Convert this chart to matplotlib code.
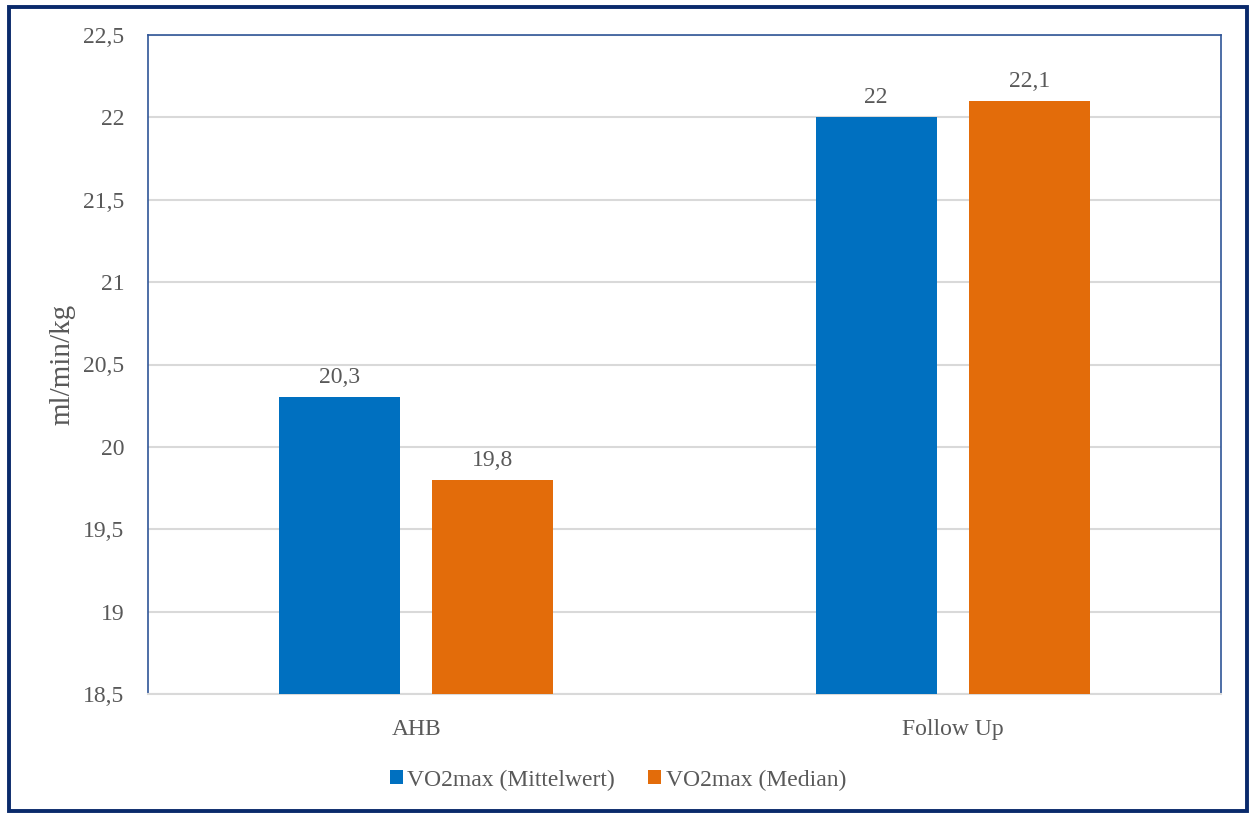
import numpy as np
import matplotlib.pyplot as plt
from matplotlib.patches import Rectangle

categories = ["AHB", "Follow Up"]
mittelwert = [20.3, 22.0]
median = [19.8, 22.1]
series_names = ["VO2max (Mittelwert)", "VO2max (Median)"]
y_ticks = [18.5, 19, 19.5, 20, 20.5, 21, 21.5, 22, 22.5]

blue = "#0070C0"
orange = "#E36C0A"
text_grey = "#595959"

plt.rcParams['font.family'] = ['Liberation Serif', 'DejaVu Serif']


def de_fmt(v):
    s = ("%g" % v).replace(".", ",")
    return s


fig = plt.figure(figsize=(12.49, 8.14), dpi=100)
W, H = 1249, 814
ax = fig.add_axes([148 / W, (H - 694) / H, 1073 / W, 659 / H])

x = np.arange(len(categories))
width = 0.225
offset = 0.1426
b1 = ax.bar(x - offset, mittelwert, width, color=blue, label=series_names[0], zorder=3)
b2 = ax.bar(x + offset, median, width, color=orange, label=series_names[1], zorder=3)

for bars, vals in ((b1, mittelwert), (b2, median)):
    for rect, v in zip(bars, vals):
        ax.annotate(de_fmt(v), (rect.get_x() + rect.get_width() / 2, v),
                    xytext=(0, 9), textcoords="offset pixels",
                    ha="center", va="bottom", fontsize=17, color=text_grey)

ax.set_xlim(-0.5, 1.5)
ax.set_ylim(18.5, 22.5)
ax.set_yticks(y_ticks)
ax.set_yticklabels([de_fmt(t) for t in y_ticks], fontsize=17, color=text_grey)
ax.set_xticks(x)
ax.set_xticklabels(categories, fontsize=17, color=text_grey)
ax.tick_params(axis="both", length=0)
ax.tick_params(axis="y", pad=17)
ax.tick_params(axis="x", pad=18)
ax.grid(axis="y", color="#D9D9D9", linewidth=1.5, zorder=0)

for side in ("left", "top", "right"):
    ax.spines[side].set_color("#2F5597")
    ax.spines[side].set_linewidth(1.2)
ax.spines["bottom"].set_color("#D9D9D9")
ax.spines["bottom"].set_linewidth(1.5)

fig.text(62 / W, 1 - 364 / H, "ml/min/kg", rotation=90, ha="center", va="center",
         fontsize=21, color=text_grey)

leg = fig.legend(loc="center", bbox_to_anchor=(618 / W, 1 - 780 / H), ncol=2,
                 frameon=False, fontsize=17, handlelength=0.55, handleheight=0.55,
                 handletextpad=0.2, columnspacing=1.4)
for t in leg.get_texts():
    t.set_color(text_grey)

# dark outer frame around the whole chart
fig.patches.append(Rectangle((9 / W, 1 - 811 / H), 1238 / W, 804.5 / H,
                             transform=fig.transFigure, fill=False,
                             edgecolor="#0A2A6B", linewidth=2.8))

fig.savefig("out.png", dpi=100)
